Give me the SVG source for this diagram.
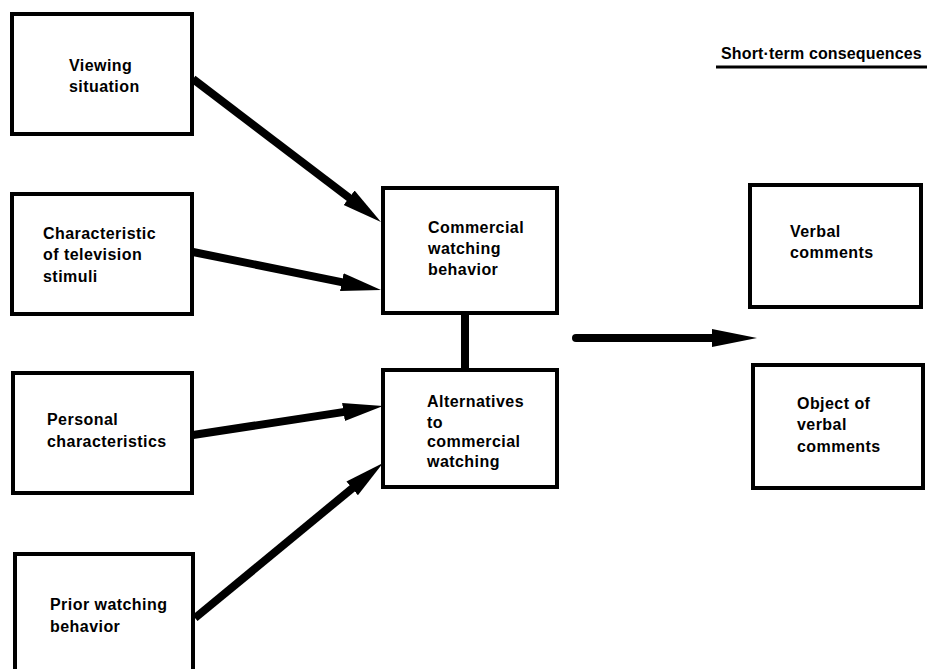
<svg xmlns="http://www.w3.org/2000/svg" width="927" height="669" viewBox="0 0 927 669">
<style>
.box{fill:#fff;stroke:#000;stroke-width:4}
.t{font-family:"Liberation Sans",Arial,sans-serif;font-weight:bold;font-size:16px;letter-spacing:0.45px;fill:#000}
.c{stroke:#000;stroke-width:8;fill:none}
</style>
<defs>
<marker id="ah" viewBox="0 0 40 20" refX="6" refY="10" markerWidth="40" markerHeight="20" markerUnits="userSpaceOnUse" orient="auto">
<path d="M0,1 L40,10 L0,19 Z" fill="#000"/>
</marker>
<marker id="ah2" viewBox="0 0 45 18" refX="8" refY="9" markerWidth="45" markerHeight="18" markerUnits="userSpaceOnUse" orient="auto">
<path d="M0,0 L45,9 L0,18 Z" fill="#000"/>
</marker>
</defs>
<rect width="927" height="669" fill="#fff"/>
<g id="connectors">
<line class="c" x1="193" y1="79" x2="353.9" y2="201.4" marker-end="url(#ah)"/>
<line class="c" x1="193" y1="252" x2="347.7" y2="283.3" marker-end="url(#ah)"/>
<line class="c" x1="193" y1="435" x2="349.4" y2="411.1" marker-end="url(#ah)"/>
<line class="c" x1="195" y1="618" x2="356.8" y2="484.6" marker-end="url(#ah)"/>
<line class="c" x1="465" y1="313" x2="465" y2="370"/>
<line class="c" x1="576" y1="338" x2="720" y2="338" stroke-linecap="round" marker-end="url(#ah2)"/>
</g>
<g id="viewing">
<rect class="box" x="12" y="14" width="180" height="120"/>
<text class="t" x="69" y="71">Viewing</text>
<text class="t" x="69" y="92">situation</text>
</g>
<g id="characteristic">
<rect class="box" x="12" y="194" width="180" height="120"/>
<text class="t" x="43" y="239">Characteristic</text>
<text class="t" x="43" y="260">of television</text>
<text class="t" x="43" y="282">stimuli</text>
</g>
<g id="personal">
<rect class="box" x="13" y="373" width="179" height="120"/>
<text class="t" x="47" y="425">Personal</text>
<text class="t" x="47" y="447">characteristics</text>
</g>
<g id="prior">
<rect class="box" x="15" y="554" width="178" height="130"/>
<text class="t" x="50" y="610">Prior watching</text>
<text class="t" x="50" y="632">behavior</text>
</g>
<g id="commercial">
<rect class="box" x="383" y="188" width="174" height="125"/>
<text class="t" x="428" y="233">Commercial</text>
<text class="t" x="428" y="254">watching</text>
<text class="t" x="428" y="275">behavior</text>
</g>
<g id="alternatives">
<rect class="box" x="383" y="370" width="174" height="117"/>
<text class="t" x="427" y="407">Alternatives</text>
<text class="t" x="427" y="428">to</text>
<text class="t" x="427" y="447">commercial</text>
<text class="t" x="427" y="467">watching</text>
</g>
<g id="title">
<text class="t" x="721" y="59" style="letter-spacing:0.15px">Short·term consequences</text>
<line x1="716" y1="67" x2="927" y2="67" stroke="#000" stroke-width="3"/>
</g>
<g id="verbal">
<rect class="box" x="750" y="185" width="171" height="122"/>
<text class="t" x="790" y="237">Verbal</text>
<text class="t" x="790" y="258">comments</text>
</g>
<g id="object">
<rect class="box" x="753" y="365" width="170" height="123"/>
<text class="t" x="797" y="409">Object of</text>
<text class="t" x="797" y="430">verbal</text>
<text class="t" x="797" y="452">comments</text>
</g>
</svg>
